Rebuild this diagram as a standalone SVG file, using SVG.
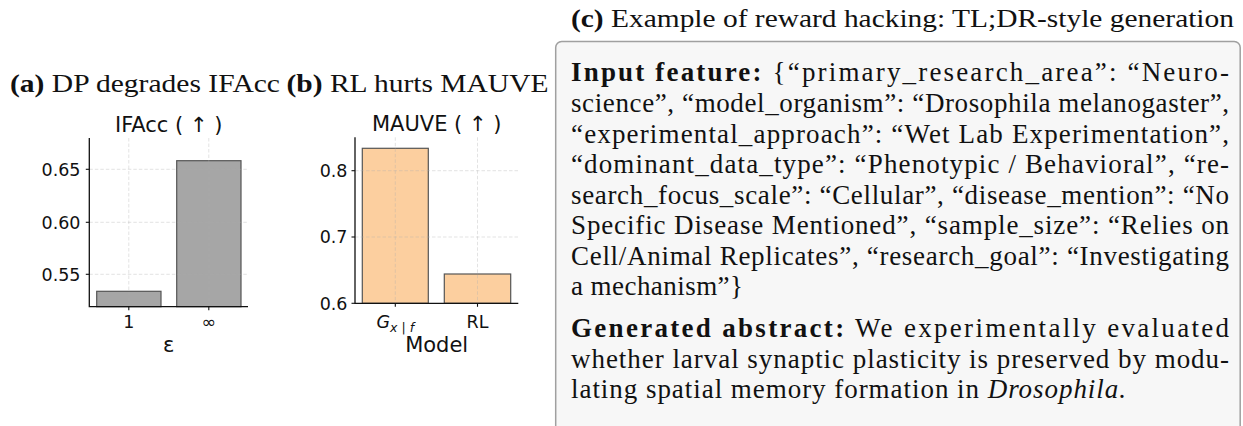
<svg xmlns="http://www.w3.org/2000/svg" width="1243" height="426" viewBox="0 0 1243 426">
<style>
.lbl{font-family:"Liberation Serif",serif;font-size:26px;fill:#111}
.body{font-family:"Liberation Serif",serif;font-size:27px;fill:#111}
.b{font-weight:bold}
.it{font-style:italic}
.tick{font-family:"DejaVu Sans",sans-serif;font-size:17.5px;fill:#111}
.ttl{font-family:"DejaVu Sans",sans-serif;font-size:21px;fill:#111}
.grid{stroke:#b0b0b0;stroke-opacity:0.35;stroke-width:1;stroke-dasharray:3.5 2;fill:none}
.spine{stroke:#111;stroke-width:1.3;fill:none}
.tk{stroke:#111;stroke-width:1.1}
.barg{fill:#a6a6a6;stroke:#555;stroke-width:1.2}
.barp{fill:#fccf9f;stroke:#555;stroke-width:1.2}
</style>
<rect width="1243" height="426" fill="#fff"/>

<g id="panel-a">
  <text class="lbl" x="10" y="92" textLength="270" lengthAdjust="spacingAndGlyphs"><tspan class="b">(a)</tspan> DP degrades IFAcc</text>
  <text class="ttl" x="168.7" y="132" text-anchor="middle">IFAcc ( ↑ )</text>
  <rect class="barg" x="96.7" y="291.3" width="64.3" height="15.4"/>
  <rect class="barg" x="176.7" y="160.7" width="64.3" height="146"/>
  <g class="grid">
    <line x1="89.3" y1="169.3" x2="248" y2="169.3"/>
    <line x1="89.3" y1="222.3" x2="248" y2="222.3"/>
    <line x1="89.3" y1="274.3" x2="248" y2="274.3"/>
    <line x1="128.8" y1="138" x2="128.8" y2="306.7"/>
    <line x1="208.8" y1="138" x2="208.8" y2="306.7"/>
  </g>
  <path class="spine" d="M89.3 138 V306.7 H248"/>
  <g class="tk">
    <line x1="85.8" y1="169.3" x2="89.3" y2="169.3"/>
    <line x1="85.8" y1="222.3" x2="89.3" y2="222.3"/>
    <line x1="85.8" y1="274.3" x2="89.3" y2="274.3"/>
    <line x1="128.8" y1="306.7" x2="128.8" y2="310.2"/>
    <line x1="208.8" y1="306.7" x2="208.8" y2="310.2"/>
  </g>
  <text class="tick" x="80.5" y="175.8" text-anchor="end">0.65</text>
  <text class="tick" x="80.5" y="228.8" text-anchor="end">0.60</text>
  <text class="tick" x="80.5" y="280.8" text-anchor="end">0.55</text>
  <text class="tick" x="128.8" y="328" text-anchor="middle">1</text>
  <text class="tick" x="208.8" y="328" text-anchor="middle">∞</text>
  <text class="ttl" x="168.7" y="352" text-anchor="middle">ε</text>
</g>

<g id="panel-b">
  <text class="lbl" x="286.5" y="92" textLength="262" lengthAdjust="spacingAndGlyphs"><tspan class="b">(b)</tspan> RL hurts MAUVE</text>
  <text class="ttl" x="436.7" y="131" text-anchor="middle">MAUVE ( ↑ )</text>
  <rect class="barp" x="362.3" y="148.3" width="66" height="155"/>
  <rect class="barp" x="444.3" y="274" width="66.4" height="29.3"/>
  <g class="grid">
    <line x1="355" y1="170.7" x2="518.3" y2="170.7"/>
    <line x1="355" y1="237" x2="518.3" y2="237"/>
    <line x1="395.3" y1="137.3" x2="395.3" y2="303.3"/>
    <line x1="477.5" y1="137.3" x2="477.5" y2="303.3"/>
  </g>
  <path class="spine" d="M355 137.3 V303.3 H518.3"/>
  <g class="tk">
    <line x1="351.5" y1="170.7" x2="355" y2="170.7"/>
    <line x1="351.5" y1="237" x2="355" y2="237"/>
    <line x1="351.5" y1="303.3" x2="355" y2="303.3"/>
    <line x1="395.3" y1="303.3" x2="395.3" y2="306.8"/>
    <line x1="477.5" y1="303.3" x2="477.5" y2="306.8"/>
  </g>
  <text class="tick" x="347.5" y="177" text-anchor="end">0.8</text>
  <text class="tick" x="347.5" y="243.3" text-anchor="end">0.7</text>
  <text class="tick" x="347.5" y="309.6" text-anchor="end">0.6</text>
  <text class="tick" x="395.3" y="328" text-anchor="middle"><tspan class="it">G</tspan><tspan font-size="12.5" dy="4"><tspan class="it">x</tspan> | <tspan class="it">f</tspan></tspan></text>
  <text class="tick" x="477.5" y="328" text-anchor="middle">RL</text>
  <text class="ttl" x="436.7" y="352" text-anchor="middle">Model</text>
</g>

<g id="panel-c">
  <text class="lbl" x="571" y="27" textLength="663" lengthAdjust="spacingAndGlyphs"><tspan class="b">(c)</tspan> Example of reward hacking: TL;DR-style generation</text>
  <rect x="555.7" y="41.5" width="684.5" height="400" rx="6" fill="#f7f7f7" stroke="#a0a0a0" stroke-width="1.5"/>
  <text class="body" x="571" y="81" textLength="658" lengthAdjust="spacing"><tspan class="b">Input feature:</tspan> {“primary_research_area”: “Neuro-</text>
  <text class="body" x="571" y="111.5" textLength="658" lengthAdjust="spacing">science”, “model_organism”: “Drosophila melanogaster”,</text>
  <text class="body" x="571" y="142.5" textLength="658" lengthAdjust="spacing">“experimental_approach”: “Wet Lab Experimentation”,</text>
  <text class="body" x="571" y="173" textLength="658" lengthAdjust="spacing">“dominant_data_type”: “Phenotypic / Behavioral”, “re-</text>
  <text class="body" x="571" y="203.5" textLength="658" lengthAdjust="spacing">search_focus_scale”: “Cellular”, “disease_mention”: “No</text>
  <text class="body" x="571" y="234" textLength="658" lengthAdjust="spacing">Specific Disease Mentioned”, “sample_size”: “Relies on</text>
  <text class="body" x="571" y="264.5" textLength="658" lengthAdjust="spacing">Cell/Animal Replicates”, “research_goal”: “Investigating</text>
  <text class="body" x="571" y="295" textLength="172" lengthAdjust="spacing">a mechanism”}</text>
  <text class="body" x="571" y="337" textLength="658" lengthAdjust="spacing"><tspan class="b">Generated abstract:</tspan> We experimentally evaluated</text>
  <text class="body" x="571" y="367.5" textLength="658" lengthAdjust="spacing">whether larval synaptic plasticity is preserved by modu-</text>
  <text class="body" x="571" y="398" textLength="555" lengthAdjust="spacing">lating spatial memory formation in <tspan class="it">Drosophila.</tspan></text>
</g>
</svg>
